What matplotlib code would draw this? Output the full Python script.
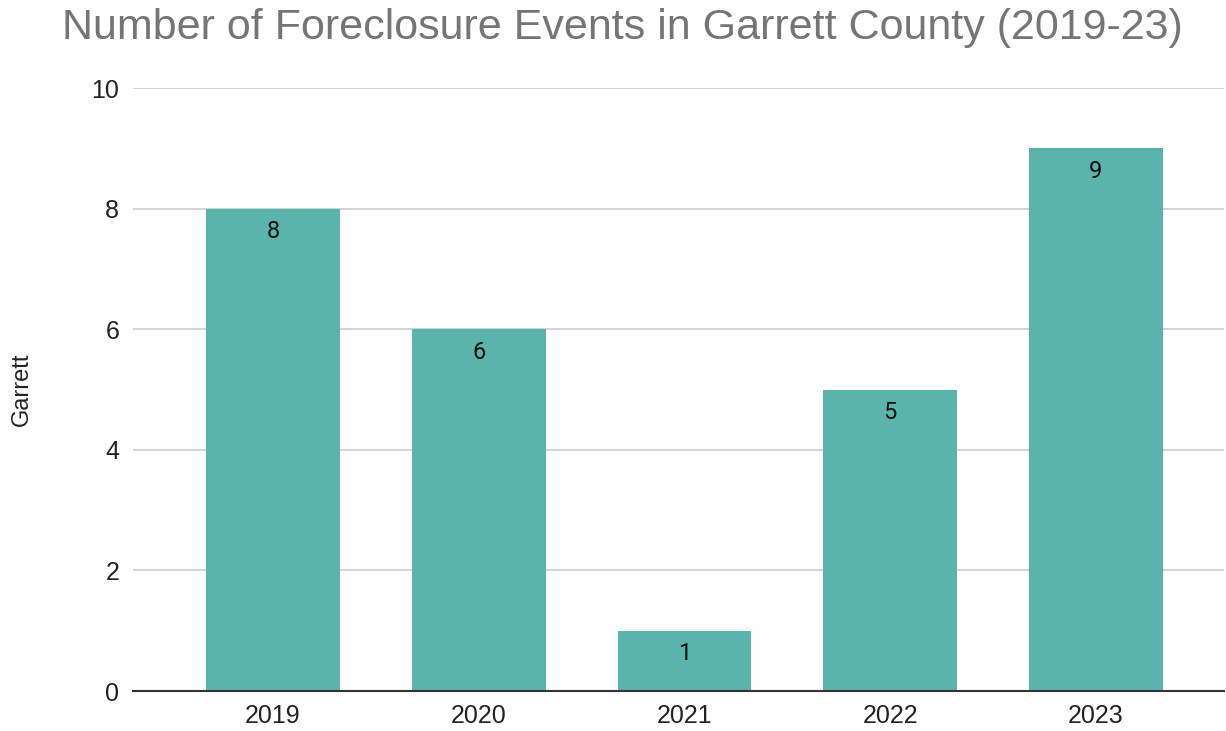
import matplotlib.pyplot as plt

years = ["2019", "2020", "2021", "2022", "2023"]
events = [8, 6, 1, 5, 9]

plt.rcParams["font.family"] = ["Liberation Sans", "DejaVu Sans"]

fig = plt.figure(figsize=(12.26, 7.31), dpi=100)
ax = fig.add_axes([0.1085, 0.0547, 0.8895, 0.8249])

x = list(range(len(years)))
bars = ax.bar(x, events, width=0.65, color="#5bb4ab", zorder=3)

# value labels just inside the top of each bar
for rect, v in zip(bars, events):
    ax.annotate(str(v), (rect.get_x() + rect.get_width() / 2, v),
                xytext=(0, -23), textcoords="offset pixels",
                ha="center", va="center", fontsize=17, color="#111111",
                family=["Roboto", "DejaVu Sans"], zorder=4)

ax.set_xlim(-0.68, 4.62)
ax.set_ylim(0, 10)
ax.set_yticks([0, 2, 4, 6, 8, 10])
ax.set_xticks(x)
ax.set_xticklabels(years)
ax.tick_params(axis="both", length=0, labelsize=18, colors="#222222")
ax.tick_params(axis="y", pad=10)
ax.tick_params(axis="x", pad=9)

ax.grid(axis="y", color="#cccccc", linewidth=1.2, zorder=0)
for side in ["top", "right", "left"]:
    ax.spines[side].set_visible(False)
ax.spines["bottom"].set_color("#333333")
ax.spines["bottom"].set_linewidth(1.5)
ax.spines["bottom"].set_zorder(5)

ax.set_ylabel("Garrett", fontsize=17, color="#222222", labelpad=42)

fig.text(0.508, 0.962, "Number of Foreclosure Events in Garrett County (2019-23)",
         ha="center", va="center", fontsize=31, color="#757575")

fig.savefig("out.png", dpi=100)
